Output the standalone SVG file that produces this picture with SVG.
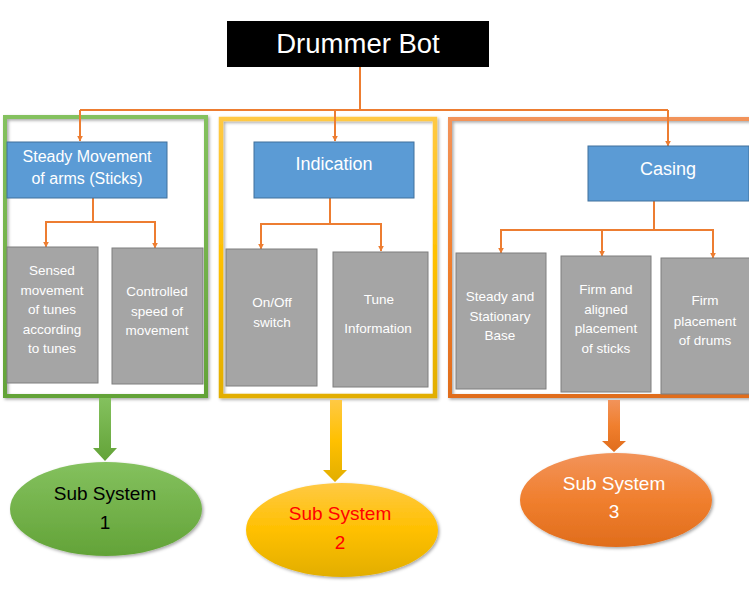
<svg xmlns="http://www.w3.org/2000/svg" width="749" height="592" viewBox="0 0 749 592">
<style>
.blue{fill:#5B9BD5;stroke:#41719C;stroke-width:1}
.gray{fill:#A5A5A5;stroke:#7F7F7F;stroke-width:1}
.wt{font-family:"Liberation Sans",Arial,sans-serif;fill:#FFFFFF;text-anchor:middle}
.gt{font-size:13.5px}
.bt{font-size:16px}
.ht{font-size:18px}
.st{font-family:"Liberation Sans",Arial,sans-serif;font-size:19px;text-anchor:middle}
.con{fill:none;stroke:#ED7D31;stroke-width:2}
</style>
<defs>
<marker id="ah" viewBox="0 0 10 10" refX="9" refY="5" markerWidth="6" markerHeight="6" orient="auto" markerUnits="userSpaceOnUse">
<path d="M0,0 L10,5 L0,10 z" fill="#ED7D31"/>
</marker>
<linearGradient id="gG" x1="0" y1="0" x2="0" y2="1"><stop offset="0" stop-color="#84C15E"/><stop offset="1" stop-color="#63A338"/></linearGradient>
<linearGradient id="gY" x1="0" y1="0" x2="0" y2="1"><stop offset="0" stop-color="#FFC944"/><stop offset="0.5" stop-color="#FFC000"/><stop offset="1" stop-color="#E2AE00"/></linearGradient>
<linearGradient id="gO" x1="0" y1="0" x2="0" y2="1"><stop offset="0" stop-color="#F2935A"/><stop offset="0.5" stop-color="#F07F2E"/><stop offset="1" stop-color="#E06D1C"/></linearGradient>
<filter id="sh" x="-10%" y="-10%" width="130%" height="130%"><feDropShadow dx="1.5" dy="1.5" stdDeviation="1.5" flood-color="#000" flood-opacity="0.35"/></filter>
</defs>
<rect width="749" height="592" fill="#FFFFFF"/>

<g id="frames">
<rect x="5" y="117" width="201" height="279" fill="none" stroke="url(#gG)" stroke-width="4" filter="url(#sh)"/>
<rect x="221" y="119" width="214" height="277" fill="none" stroke="url(#gY)" stroke-width="4.5" filter="url(#sh)"/>
<rect x="450" y="119" width="320" height="277" fill="none" stroke="url(#gO)" stroke-width="4" filter="url(#sh)"/>
</g>

<g id="connectors">
<path class="con" d="M360,67 V110"/>
<path class="con" d="M80,110 H668"/>
<path class="con" d="M80,110 V141" marker-end="url(#ah)"/>
<path class="con" d="M335,110 V141" marker-end="url(#ah)"/>
<path class="con" d="M668,110 V146" marker-end="url(#ah)"/>
<path class="con" d="M93,198 V222 H46 V247" marker-end="url(#ah)"/>
<path class="con" d="M93,222 H155 V248" marker-end="url(#ah)"/>
<path class="con" d="M330,198 V224 H261 V249" marker-end="url(#ah)"/>
<path class="con" d="M330,224 H381 V251" marker-end="url(#ah)"/>
<path class="con" d="M654,201 V230 H501 V253" marker-end="url(#ah)"/>
<path class="con" d="M602,230 V256" marker-end="url(#ah)"/>
<path class="con" d="M654,230 H713 V258" marker-end="url(#ah)"/>
<path d="M99,398 H111 V448 H117 L105,461 L93,448 H99 Z" fill="url(#gG)"/>
<path d="M330,400 H342 V470 H347 L335,482 L323,470 H330 Z" fill="url(#gY)"/>
<path d="M608,400 H620 V441 H626 L614,452 L602,441 H608 Z" fill="url(#gO)"/>
</g>

<g id="title">
<rect x="227" y="21" width="262" height="46" fill="#000000"/>
<text x="358" y="53" class="wt" font-size="27.5">Drummer Bot</text>
</g>

<g id="steady">
<rect x="7" y="142" width="160" height="56" class="blue"/>
<text class="wt bt" x="87" y="162">Steady Movement</text>
<text class="wt bt" x="87" y="184">of arms (Sticks)</text>
</g>
<g id="sensed">
<rect x="7" y="247" width="91" height="136" class="gray"/>
<text class="wt gt" x="52" y="275">Sensed</text>
<text class="wt gt" x="52" y="295">movement</text>
<text class="wt gt" x="52" y="314">of tunes</text>
<text class="wt gt" x="52" y="334">according</text>
<text class="wt gt" x="52" y="353">to tunes</text>
</g>
<g id="controlled">
<rect x="112" y="248" width="91" height="136" class="gray"/>
<text class="wt gt" x="157" y="296">Controlled</text>
<text class="wt gt" x="157" y="316">speed of</text>
<text class="wt gt" x="157" y="335">movement</text>
</g>

<g id="indication">
<rect x="254" y="142" width="160" height="56" class="blue"/>
<text class="wt ht" x="334" y="170">Indication</text>
</g>
<g id="onoff">
<rect x="226" y="249" width="91" height="137" class="gray"/>
<text class="wt gt" x="272" y="307">On/Off</text>
<text class="wt gt" x="272" y="327">switch</text>
</g>
<g id="tune">
<rect x="333" y="252" width="95" height="135" class="gray"/>
<text class="wt gt" x="379" y="304">Tune</text>
<text class="wt gt" x="378" y="333">Information</text>
</g>

<g id="casing">
<rect x="588" y="146" width="161" height="55" class="blue"/>
<text class="wt ht" x="668" y="175">Casing</text>
</g>
<g id="base">
<rect x="456" y="253" width="90" height="136" class="gray"/>
<text class="wt gt" x="500" y="301">Steady and</text>
<text class="wt gt" x="500" y="321">Stationary</text>
<text class="wt gt" x="500" y="340">Base</text>
</g>
<g id="sticks">
<rect x="561" y="256" width="90" height="136" class="gray"/>
<text class="wt gt" x="606" y="294">Firm and</text>
<text class="wt gt" x="606" y="314">aligned</text>
<text class="wt gt" x="606" y="333">placement</text>
<text class="wt gt" x="606" y="353">of sticks</text>
</g>
<g id="drums">
<rect x="661" y="258" width="95" height="136" class="gray"/>
<text class="wt gt" x="705" y="305">Firm</text>
<text class="wt gt" x="705" y="326">placement</text>
<text class="wt gt" x="705" y="345">of drums</text>
</g>

<g id="sub1">
<ellipse cx="106" cy="509" rx="96" ry="47" fill="url(#gG)" filter="url(#sh)"/>
<text class="st" x="105" y="500" fill="#000000">Sub System</text>
<text class="st" x="105" y="529" fill="#000000">1</text>
</g>
<g id="sub2">
<ellipse cx="342" cy="530" rx="96" ry="47" fill="url(#gY)" filter="url(#sh)"/>
<text class="st" x="340" y="520" fill="#FF0000">Sub System</text>
<text class="st" x="340" y="549" fill="#FF0000">2</text>
</g>
<g id="sub3">
<ellipse cx="616" cy="500" rx="96" ry="47" fill="url(#gO)" filter="url(#sh)"/>
<text class="st" x="614" y="490" fill="#FFFFFF">Sub System</text>
<text class="st" x="614" y="518" fill="#FFFFFF">3</text>
</g>
</svg>
